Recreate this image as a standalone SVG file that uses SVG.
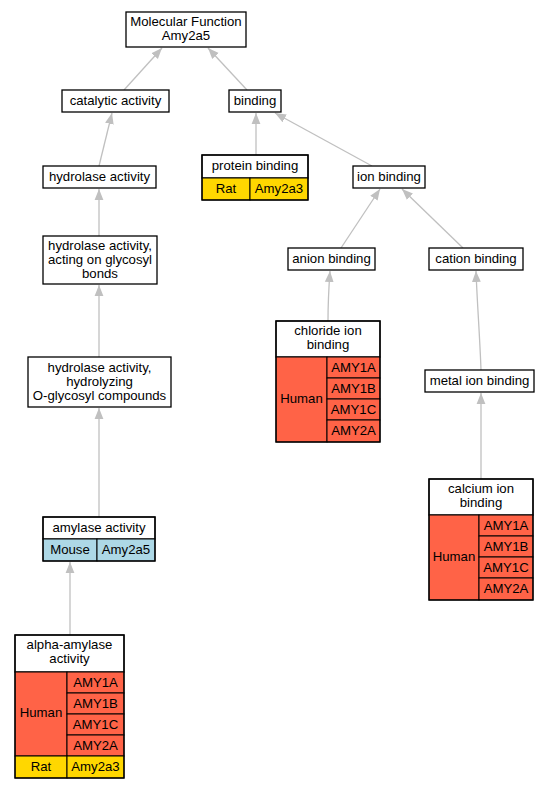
<svg xmlns="http://www.w3.org/2000/svg" width="551" height="789" viewBox="0 0 551 789">
<defs>
<marker id="ah" viewBox="0 0 10 10" refX="10" refY="5" markerWidth="11" markerHeight="11" markerUnits="userSpaceOnUse" orient="auto">
<path d="M0,1 L10,5 L0,9 Z" fill="#c0c0c0"/>
</marker>
<style>
text{font-family:"Liberation Sans",Arial,sans-serif;font-size:13.2px;text-anchor:middle;fill:#000}
.b{fill:#fff;stroke:#000;stroke-width:1.3}
.h{fill:#ff6347;stroke:#000;stroke-width:1}
.r{fill:#ffd700;stroke:#000;stroke-width:1}
.m{fill:#add8e6;stroke:#000;stroke-width:1}
.e{stroke:#c0c0c0;stroke-width:1.3;fill:none;marker-end:url(#ah)}
</style>
</defs>
<rect width="551" height="789" fill="#fff"/>
<g id="edges">
<line class="e" x1="124" y1="90" x2="162" y2="48"/>
<line class="e" x1="247" y1="90" x2="208" y2="48"/>
<line class="e" x1="99" y1="166" x2="112" y2="113"/>
<line class="e" x1="256" y1="155" x2="256" y2="113"/>
<line class="e" x1="372" y1="166" x2="275" y2="113"/>
<line class="e" x1="99" y1="236" x2="99" y2="189"/>
<line class="e" x1="341" y1="248" x2="380" y2="189"/>
<line class="e" x1="463" y1="248" x2="402" y2="189"/>
<line class="e" x1="99" y1="357" x2="99" y2="285"/>
<path class="e" d="M328,321 C328,300 329,285 330,271"/>
<path class="e" d="M481,370 C480,340 477,300 476,271"/>
<line class="e" x1="99" y1="517" x2="99" y2="408"/>
<line class="e" x1="481" y1="479" x2="481" y2="393"/>
<line class="e" x1="70" y1="635" x2="70" y2="562"/>
</g>
<g id="mf">
<rect class="b" x="126" y="12" width="120" height="35"/>
<text x="186" y="26">Molecular Function</text>
<text x="186" y="40">Amy2a5</text>
</g>
<g id="catalytic">
<rect class="b" x="62" y="90" width="107" height="22"/>
<text x="115.5" y="105">catalytic activity</text>
</g>
<g id="binding">
<rect class="b" x="229" y="90" width="52" height="22"/>
<text x="255" y="105">binding</text>
</g>
<g id="hydrolase">
<rect class="b" x="43" y="166" width="113" height="22"/>
<text x="99.5" y="181">hydrolase activity</text>
</g>
<g id="protein">
<rect class="b" x="202" y="155" width="106" height="23"/>
<text x="255" y="170">protein binding</text>
<rect class="r" x="202" y="178" width="48" height="22"/>
<rect class="r" x="250" y="178" width="58" height="22"/>
<text x="226" y="193">Rat</text>
<text x="279" y="193">Amy2a3</text>
<rect x="202" y="155" width="106" height="45" fill="none" stroke="#000" stroke-width="1.3"/>
</g>
<g id="ion">
<rect class="b" x="353" y="166" width="72" height="22"/>
<text x="389" y="181">ion binding</text>
</g>
<g id="glycosyl">
<rect class="b" x="43" y="236" width="114" height="48"/>
<text x="100" y="250">hydrolase activity,</text>
<text x="100" y="264">acting on glycosyl</text>
<text x="100" y="278">bonds</text>
</g>
<g id="anion">
<rect class="b" x="288" y="248" width="87" height="22"/>
<text x="331.5" y="263">anion binding</text>
</g>
<g id="cation">
<rect class="b" x="429" y="248" width="94" height="22"/>
<text x="476" y="263">cation binding</text>
</g>
<g id="hydrolyzing">
<rect class="b" x="28" y="357" width="143" height="50"/>
<text x="99.5" y="372">hydrolase activity,</text>
<text x="99.5" y="386">hydrolyzing</text>
<text x="99.5" y="400">O-glycosyl compounds</text>
</g>
<g id="chloride">
<rect class="b" x="276" y="321" width="104" height="36"/>
<text x="328" y="335">chloride ion</text>
<text x="328" y="349">binding</text>
<rect class="h" x="276" y="357" width="51" height="85"/>
<text x="301.5" y="403">Human</text>
<rect class="h" x="327" y="357" width="53" height="21"/>
<rect class="h" x="327" y="378" width="53" height="21"/>
<rect class="h" x="327" y="399" width="53" height="21"/>
<rect class="h" x="327" y="420" width="53" height="22"/>
<text x="353.5" y="372">AMY1A</text>
<text x="353.5" y="393">AMY1B</text>
<text x="353.5" y="414">AMY1C</text>
<text x="353.5" y="435">AMY2A</text>
<rect x="276" y="321" width="104" height="121" fill="none" stroke="#000" stroke-width="1.3"/>
</g>
<g id="metal">
<rect class="b" x="425" y="370" width="109" height="22"/>
<text x="479.5" y="385">metal ion binding</text>
</g>
<g id="amylase">
<rect class="b" x="43" y="517" width="112" height="22"/>
<text x="99" y="532">amylase activity</text>
<rect class="m" x="43" y="539" width="54" height="22"/>
<rect class="m" x="97" y="539" width="58" height="22"/>
<text x="70" y="554">Mouse</text>
<text x="126" y="554">Amy2a5</text>
<rect x="43" y="517" width="112" height="44" fill="none" stroke="#000" stroke-width="1.3"/>
</g>
<g id="calcium">
<rect class="b" x="429" y="479" width="104" height="36"/>
<text x="481" y="493">calcium ion</text>
<text x="481" y="507">binding</text>
<rect class="h" x="429" y="515" width="50" height="85"/>
<text x="454" y="561">Human</text>
<rect class="h" x="479" y="515" width="54" height="21"/>
<rect class="h" x="479" y="536" width="54" height="21"/>
<rect class="h" x="479" y="557" width="54" height="21"/>
<rect class="h" x="479" y="578" width="54" height="22"/>
<text x="506" y="530">AMY1A</text>
<text x="506" y="551">AMY1B</text>
<text x="506" y="572">AMY1C</text>
<text x="506" y="593">AMY2A</text>
<rect x="429" y="479" width="104" height="121" fill="none" stroke="#000" stroke-width="1.3"/>
</g>
<g id="alpha">
<rect class="b" x="15" y="635" width="109" height="37"/>
<text x="69.5" y="649">alpha-amylase</text>
<text x="69.5" y="663">activity</text>
<rect class="h" x="15" y="672" width="52" height="84"/>
<text x="41" y="717">Human</text>
<rect class="h" x="67" y="672" width="57" height="21"/>
<rect class="h" x="67" y="693" width="57" height="21"/>
<rect class="h" x="67" y="714" width="57" height="21"/>
<rect class="h" x="67" y="735" width="57" height="21"/>
<text x="95.5" y="687">AMY1A</text>
<text x="95.5" y="708">AMY1B</text>
<text x="95.5" y="729">AMY1C</text>
<text x="95.5" y="750">AMY2A</text>
<rect class="r" x="15" y="756" width="52" height="22"/>
<rect class="r" x="67" y="756" width="57" height="22"/>
<text x="41" y="771">Rat</text>
<text x="95.5" y="771">Amy2a3</text>
<rect x="15" y="635" width="109" height="143" fill="none" stroke="#000" stroke-width="1.3"/>
</g>
</svg>
